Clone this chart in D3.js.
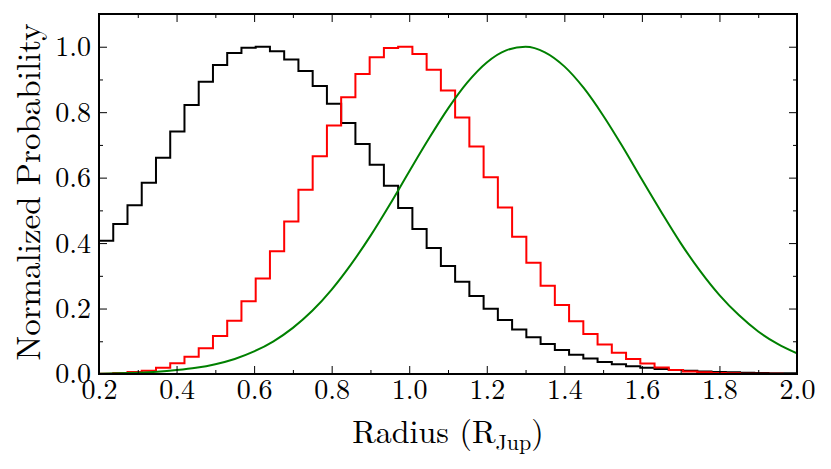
<!DOCTYPE html>
<html>
<head>
<meta charset="utf-8">
<script src="https://cdn.jsdelivr.net/npm/d3@7"></script>
<style>
  body { margin: 0; background: #fff; }
</style>
</head>
<body>
<div id="chart"></div>
<script>
// histogram bins: 49 equal bins from 0.2 to 2.0
const binStart = 0.2;
const binEnd = 2.0;
const binCount = 49;

// black histogram (normalized)
const blackHist = [0.407, 0.458, 0.516, 0.584, 0.661, 0.741, 0.822, 0.893, 0.944, 0.981,
  0.997, 1.000, 0.986, 0.961, 0.926, 0.880, 0.826, 0.767, 0.703, 0.639,
  0.575, 0.507, 0.443, 0.385, 0.330, 0.282, 0.238, 0.199, 0.165, 0.136,
  0.112, 0.092, 0.073, 0.059, 0.047, 0.037, 0.030, 0.024, 0.019, 0.015,
  0.012, 0.010, 0.008, 0.006, 0.005, 0.004, 0.003, 0.002, 0.002];

// red histogram (normalized)
const redHist = [0.001, 0.003, 0.006, 0.010, 0.019, 0.033, 0.053, 0.079, 0.116, 0.163,
  0.222, 0.292, 0.375, 0.466, 0.563, 0.665, 0.759, 0.846, 0.917, 0.968,
  0.996, 1.000, 0.978, 0.930, 0.866, 0.784, 0.695, 0.601, 0.509, 0.419,
  0.340, 0.270, 0.211, 0.161, 0.122, 0.090, 0.065, 0.046, 0.032, 0.020,
  0.012, 0.008, 0.005, 0.003, 0.002, 0.001, 0.001, 0.001, 0.000];

// green smooth curve, read at 0.05 steps
const greenX = [0.20, 0.25, 0.30, 0.35, 0.40, 0.45, 0.50, 0.55, 0.60, 0.65,
  0.70, 0.75, 0.80, 0.85, 0.90, 0.95, 1.00, 1.05, 1.10, 1.15,
  1.20, 1.25, 1.30, 1.35, 1.40, 1.45, 1.50, 1.55, 1.60, 1.65,
  1.70, 1.75, 1.80, 1.85, 1.90, 1.95, 2.00];
const greenY = [0.001, 0.002, 0.004, 0.007, 0.012, 0.019, 0.030, 0.046, 0.069, 0.100,
  0.141, 0.193, 0.258, 0.335, 0.422, 0.518, 0.619, 0.718, 0.811, 0.891,
  0.952, 0.989, 1.000, 0.983, 0.940, 0.874, 0.790, 0.695, 0.594, 0.495,
  0.400, 0.315, 0.241, 0.180, 0.130, 0.092, 0.063];

// ticks
const xMajor = [0.2, 0.4, 0.6, 0.8, 1.0, 1.2, 1.4, 1.6, 1.8, 2.0];
const xMinor = [0.3, 0.5, 0.7, 0.9, 1.1, 1.3, 1.5, 1.7, 1.9];
const yMajor = [0.0, 0.2, 0.4, 0.6, 0.8, 1.0];
const yMinor = [0.1, 0.3, 0.5, 0.7, 0.9];

const FONT = "'Latin Modern Roman', 'Liberation Serif', serif";

document.addEventListener('DOMContentLoaded', function(){
  drawChart();
});

function drawChart(){
  const chartParam = {
    width: 831,
    height: 469,
    margin: { top: 14, right: 34, bottom: 95, left: 99 }
  };
  const innerW = chartParam.width - chartParam.margin.left - chartParam.margin.right;
  const innerH = chartParam.height - chartParam.margin.top - chartParam.margin.bottom;

  const svg = d3.select('#chart')
                .append('svg')
                .attr('width', chartParam.width)
                .attr('height', chartParam.height);

  const g = svg.append('g')
               .attr('transform', `translate(${chartParam.margin.left},${chartParam.margin.top})`);

  const x = d3.scaleLinear().domain([0.2, 2.0]).range([0, innerW]);
  const y = d3.scaleLinear().domain([0, 1.1]).range([innerH, 0]);

  svg.append('defs').append('clipPath').attr('id', 'plotClip')
     .append('rect').attr('width', innerW).attr('height', innerH);

  // bin edges
  const binW = (binEnd - binStart) / binCount;
  const edges = d3.range(binCount + 1).map(i => binStart + i * binW);

  function stepPoints(vals){
    const pts = [[edges[0], 0]];
    vals.forEach((v, i) => pts.push([edges[i], v]));
    pts.push([edges[binCount], vals[binCount - 1]]);
    pts.push([edges[binCount], 0]);
    return pts;
  }

  const stepLine = d3.line()
                     .x(d => x(d[0]))
                     .y(d => y(d[1]))
                     .curve(d3.curveStepAfter);

  const plot = g.append('g').attr('clip-path', 'url(#plotClip)');

  plot.append('path')
      .datum(stepPoints(blackHist))
      .attr('d', stepLine)
      .style('fill', 'none')
      .style('stroke', '#000')
      .style('stroke-width', 2);

  plot.append('path')
      .datum(stepPoints(redHist))
      .attr('d', stepLine)
      .style('fill', 'none')
      .style('stroke', '#ff0000')
      .style('stroke-width', 2);

  const greenLine = d3.line()
                      .x((d, i) => x(greenX[i]))
                      .y(d => y(d))
                      .curve(d3.curveMonotoneX);

  plot.append('path')
      .datum(greenY)
      .attr('d', greenLine)
      .style('fill', 'none')
      .style('stroke', '#008000')
      .style('stroke-width', 2);

  // axes, ticks pointing inward
  function styleAxis(sel){
    sel.select('.domain').remove();
    sel.selectAll('line').style('stroke', '#000').style('stroke-width', 1);
    sel.selectAll('text')
       .style('font-family', FONT)
       .style('font-size', '28px')
       .style('fill', '#000');
  }
  const fmt = d3.format('.1f');

  g.append('g').attr('transform', `translate(0,${innerH})`)
   .call(d3.axisBottom(x).tickValues(xMajor).tickFormat(fmt).tickSize(-8).tickPadding(5))
   .call(styleAxis);
  g.append('g').attr('transform', `translate(0,${innerH})`)
   .call(d3.axisBottom(x).tickValues(xMinor).tickFormat('').tickSize(-4))
   .call(styleAxis);
  g.append('g')
   .call(d3.axisTop(x).tickValues(xMajor).tickFormat('').tickSize(-8))
   .call(styleAxis);
  g.append('g')
   .call(d3.axisTop(x).tickValues(xMinor).tickFormat('').tickSize(-4))
   .call(styleAxis);

  g.append('g')
   .call(d3.axisLeft(y).tickValues(yMajor).tickFormat(fmt).tickSize(-8).tickPadding(8))
   .call(styleAxis);
  g.append('g')
   .call(d3.axisLeft(y).tickValues(yMinor).tickFormat('').tickSize(-4))
   .call(styleAxis);
  g.append('g').attr('transform', `translate(${innerW},0)`)
   .call(d3.axisRight(y).tickValues(yMajor).tickFormat('').tickSize(-8))
   .call(styleAxis);
  g.append('g').attr('transform', `translate(${innerW},0)`)
   .call(d3.axisRight(y).tickValues(yMinor).tickFormat('').tickSize(-4))
   .call(styleAxis);

  // frame
  g.append('rect')
   .attr('width', innerW)
   .attr('height', innerH)
   .style('fill', 'none')
   .style('stroke', '#000')
   .style('stroke-width', 2);

  // axis labels
  const xLabel = svg.append('text')
                    .attr('x', chartParam.margin.left + innerW / 2)
                    .attr('y', 443)
                    .attr('text-anchor', 'middle')
                    .style('font-family', FONT)
                    .style('font-size', '32px');
  xLabel.append('tspan').text('Radius (R');
  xLabel.append('tspan').attr('dy', 7).style('font-size', '22px').text('Jup');
  xLabel.append('tspan').attr('dy', -7).text(')');

  svg.append('text')
     .attr('transform', `translate(40,${chartParam.margin.top + innerH / 2 - 2}) rotate(-90)`)
     .attr('text-anchor', 'middle')
     .style('font-family', FONT)
     .style('font-size', '33px')
     .text('Normalized Probability');
}
</script>
</body>
</html>
